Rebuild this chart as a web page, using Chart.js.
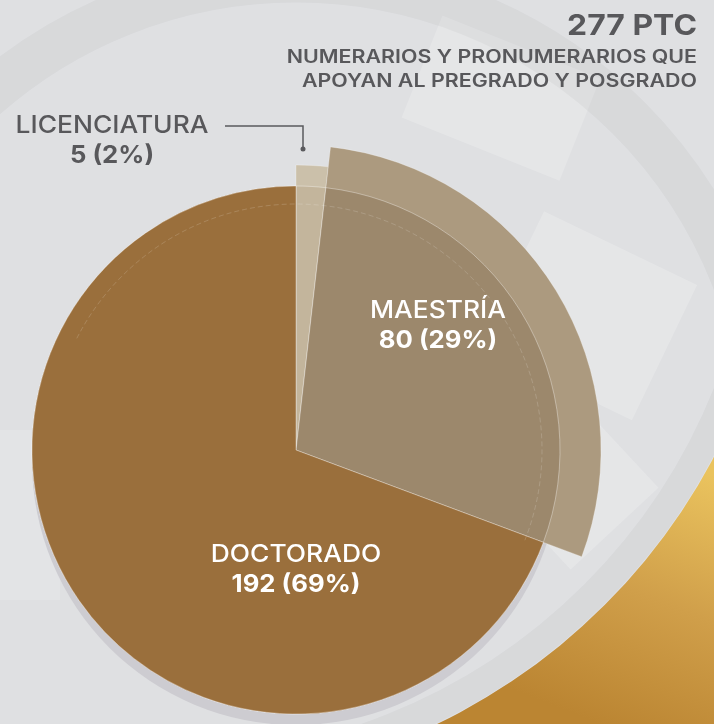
<!DOCTYPE html>
<html>
<head>
<meta charset="utf-8">
<script src="https://cdn.jsdelivr.net/npm/chart.js@4.4.1/dist/chart.umd.min.js"></script>
<style>
  html, body { margin: 0; padding: 0; background: #dfe0e2; }
  #wrap { width: 714px; height: 724px; }
</style>
</head>
<body>
<div id="wrap"><canvas id="pie" width="714" height="724"></canvas></div>
<script>
const categories = ['Licenciatura', 'Maestría', 'Doctorado'];
const counts = [5, 80, 192];
const headline = '277 PTC';
const subtitleLines = ['NUMERARIOS Y PRONUMERARIOS QUE', 'APOYAN AL PREGRADO Y POSGRADO'];

// exploded slices are drawn twice: a wide outer piece and the part inside the base circle
const outerColors = ['#cbc0aa', '#ac9a7f', '#9a6f3c'];
const innerColors = ['#c3b59c', '#9c886c', '#9a6f3c'];
const outerScale = [285 / 264, 305 / 264, 1];

const total = counts.reduce((a, b) => a + b, 0);
const pct = v => Math.round(v / total * 100);

const FONT = 'Inter, "Noto Sans", sans-serif';

// the poster uses a wide grotesque, so stretch Inter a little
function wideText(ctx, text, x, y, stretch) {
  ctx.save();
  ctx.translate(x, y);
  ctx.scale(stretch, 1);
  ctx.fillText(text, 0, 0);
  ctx.restore();
}

const background = {
  id: 'background',
  beforeDraw(chart) {
    const { ctx, width, height } = chart;
    ctx.save();
    ctx.fillStyle = '#dfe0e2';
    ctx.fillRect(0, 0, width, height);

    // soft lighter panels
    ctx.fillStyle = 'rgba(255,255,255,0.2)';
    ctx.save();
    ctx.translate(590, 300);
    ctx.rotate(0.45);
    ctx.fillRect(-80, -60, 170, 150);
    ctx.restore();
    ctx.save();
    ctx.translate(560, 470);
    ctx.rotate(-0.75);
    ctx.fillRect(-60, -70, 120, 150);
    ctx.restore();
    ctx.save();
    ctx.translate(500, 60);
    ctx.rotate(0.38);
    ctx.fillRect(-70, -20, 170, 110);
    ctx.restore();
    ctx.fillStyle = 'rgba(255,255,255,0.15)';
    ctx.fillRect(0, 430, 60, 170);

    // big faint rings
    ctx.strokeStyle = 'rgba(0,0,0,0.03)';
    ctx.lineWidth = 45;
    ctx.beginPath();
    ctx.arc(296, 450, 470, 0, Math.PI * 2);
    ctx.stroke();
    ctx.lineWidth = 28;
    ctx.beginPath();
    ctx.arc(170, 170, 600, 0, Math.PI * 2);
    ctx.stroke();

    // gold corner
    const g = ctx.createLinearGradient(700, 470, 600, 724);
    g.addColorStop(0, '#eac35e');
    g.addColorStop(0.5, '#d09f4a');
    g.addColorStop(1, '#bb8532');
    ctx.fillStyle = g;
    ctx.beginPath();
    ctx.rect(0, 0, width, height);
    ctx.arc(170, 170, 615, 0, Math.PI * 2, true);
    ctx.fill('evenodd');

    // shadow disc under the pie
    const arc = chart.getDatasetMeta(0).data[0];
    if (arc) {
      const base = Math.min(chart.chartArea.width, chart.chartArea.height) / 2;
      ctx.fillStyle = '#cdccd1';
      ctx.beginPath();
      ctx.arc(arc.x, arc.y + 11, base, 0, Math.PI * 2);
      ctx.fill();
    }
    ctx.restore();
  }
};

function applyRadii(chart) {
  const base = Math.min(chart.chartArea.width, chart.chartArea.height) / 2;
  chart.data.datasets.forEach((ds, i) => {
    chart.getDatasetMeta(i).data.forEach((arc, j) => {
      arc.innerRadius = 0;
      arc.outerRadius = base * (ds.radiusScale ? ds.radiusScale[j] : 1);
    });
  });
}

const radii = {
  id: 'radii',
  afterDatasetsUpdate: applyRadii,
  beforeDatasetsDraw: applyRadii
};

const labels = {
  id: 'labels',
  afterDatasetsDraw(chart) {
    const { ctx } = chart;
    const arc = chart.getDatasetMeta(0).data[0];
    const cx = arc.x, cy = arc.y;
    const base = Math.min(chart.chartArea.width, chart.chartArea.height) / 2;
    ctx.save();

    // faint dashed ring near the top of the pie
    ctx.strokeStyle = 'rgba(255,255,255,0.16)';
    ctx.lineWidth = 1;
    ctx.setLineDash([5, 3]);
    ctx.beginPath();
    ctx.arc(cx, cy, base - 18, -Math.PI * 0.85, Math.PI * 0.12);
    ctx.stroke();
    ctx.setLineDash([]);

    // headline
    ctx.textAlign = 'right';
    ctx.textBaseline = 'alphabetic';
    ctx.fillStyle = '#58585b';
    ctx.font = '700 29px ' + FONT;
    wideText(ctx, headline, 697, 35, 1.1);
    ctx.font = '600 18px ' + FONT;
    wideText(ctx, subtitleLines[0], 697, 63, 1.19);
    wideText(ctx, subtitleLines[1], 697, 87, 1.19);

    // slice labels
    const spots = [
      { dx: -184, dy: -317, color: '#58585b' },
      { dx: 142, dy: -132, color: '#ffffff' },
      { dx: 0, dy: 112, color: '#ffffff' }
    ];
    ctx.textAlign = 'center';
    categories.forEach((name, i) => {
      const s = spots[i];
      ctx.fillStyle = s.color;
      ctx.font = '500 24px ' + FONT;
      wideText(ctx, name.toUpperCase(), cx + s.dx, cy + s.dy, 1.1);
      ctx.font = '700 24px ' + FONT;
      wideText(ctx, counts[i] + ' (' + pct(counts[i]) + '%)', cx + s.dx, cy + s.dy + 30, 1.07);
    });

    // leader for the small slice
    ctx.strokeStyle = '#5a5a5d';
    ctx.lineWidth = 1.5;
    ctx.beginPath();
    ctx.moveTo(cx - 71, cy - 324);
    ctx.lineTo(cx + 7, cy - 324);
    ctx.lineTo(cx + 7, cy - 301);
    ctx.stroke();
    ctx.fillStyle = '#5a5a5d';
    ctx.beginPath();
    ctx.arc(cx + 7, cy - 301, 2.5, 0, Math.PI * 2);
    ctx.fill();
    ctx.restore();
  }
};

new Chart(document.getElementById('pie'), {
  type: 'pie',
  data: {
    labels: categories,
    datasets: [
      {
        data: counts,
        backgroundColor: innerColors,
        borderColor: 'rgba(255,255,255,0.35)',
        borderWidth: 1,
        order: 0
      },
      {
        data: counts,
        backgroundColor: outerColors,
        borderColor: 'rgba(255,255,255,0.25)',
        borderWidth: 1,
        radiusScale: outerScale,
        order: 1
      }
    ]
  },
  options: {
    responsive: false,
    animation: false,
    events: [],
    layout: { padding: { left: 32, right: 154, top: 186, bottom: 10 } },
    plugins: {
      legend: { display: false },
      tooltip: { enabled: false }
    }
  },
  plugins: [background, radii, labels]
});
</script>
</body>
</html>
